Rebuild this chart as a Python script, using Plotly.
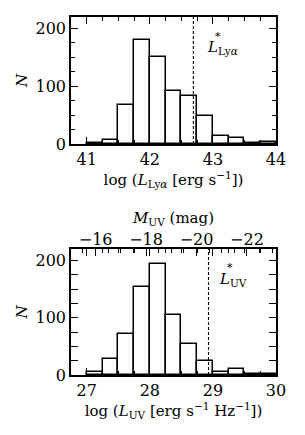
import plotly.graph_objects as go

# Data
lya_edges_left = [41.0, 41.25, 41.5, 41.75, 42.0, 42.25, 42.5, 42.75, 43.0, 43.25, 43.5, 43.75]
lya_counts = [2, 7, 67, 181, 151, 92, 83, 49, 13, 11, 2, 4]
uv_edges_left = [27.0, 27.25, 27.5, 27.75, 28.0, 28.25, 28.5, 28.75, 29.0, 29.25, 29.5, 29.75]
uv_counts = [6, 28, 72, 153, 194, 104, 54, 24, 5, 10, 2, 2]
bin_width = 0.25
lstar_lya = 42.69
lstar_uv = 28.93
muv_ticks = [-16, -18, -20, -22]
# M_UV = -2.5 log L_UV + C
muv_const = 51.85

lya_range = [40.75, 44.0]
uv_range = [26.75, 30.0]
y_range = [0, 220]

FONT = "DejaVu Serif"
fig = go.Figure()

fig.add_trace(go.Bar(x=[e + bin_width / 2 for e in lya_edges_left], y=lya_counts, width=bin_width,
                     marker=dict(color="white", line=dict(color="black", width=1.5)),
                     xaxis="x", yaxis="y", showlegend=False))
fig.add_trace(go.Bar(x=[e + bin_width / 2 for e in uv_edges_left], y=uv_counts, width=bin_width,
                     marker=dict(color="white", line=dict(color="black", width=1.5)),
                     xaxis="x2", yaxis="y2", showlegend=False))
m_range = [-2.5 * uv_range[0] + muv_const, -2.5 * uv_range[1] + muv_const]
fig.add_trace(go.Scatter(x=m_range, y=[0, 0], mode="markers", marker=dict(opacity=0),
                         xaxis="x3", yaxis="y2", showlegend=False, hoverinfo="skip"))

tickfont = dict(family=FONT, size=16, color="black")
titlefont = dict(family=FONT, size=15, color="black")
common_x = dict(showline=True, linecolor="black", linewidth=1.6, mirror="allticks",
                ticks="inside", ticklen=7, tickwidth=1.4, tickcolor="black",
                tickfont=tickfont, showgrid=False, zeroline=False, dtick=1, automargin=False,
                minor=dict(dtick=0.25, ticks="inside", ticklen=4, tickwidth=1.1, tickcolor="black"))
common_y = dict(showline=True, linecolor="black", linewidth=1.6, mirror="allticks",
                ticks="inside", ticklen=7, tickwidth=1.4, tickcolor="black",
                tickfont=tickfont, showgrid=False, zeroline=False, dtick=100, range=y_range,
                automargin=False,
                minor=dict(dtick=25, ticks="inside", ticklen=4, tickwidth=1.1, tickcolor="black"),
                title=dict(text="<i>N</i>", font=titlefont, standoff=4))

# page body has an 8px default margin, so the figure is 8px smaller and offset
fig.update_layout(
    width=297, height=427,
    margin=dict(l=63, r=29, t=9, b=60, autoexpand=False),
    plot_bgcolor="white", paper_bgcolor="white",
    bargap=0,
    xaxis=dict(common_x, range=lya_range, anchor="y", domain=[0, 1],
               title=dict(text="log (<i>L</i><sub>Ly<i>α</i></sub> [erg s<sup>−1</sup>])",
                          font=titlefont, standoff=2)),
    yaxis=dict(common_y, anchor="x", domain=[0.6453, 1.0]),
    xaxis2=dict(common_x, range=uv_range, anchor="y2", domain=[0, 1],
                title=dict(text="log (<i>L</i><sub>UV</sub> [erg s<sup>−1</sup> Hz<sup>−1</sup>])",
                           font=titlefont, standoff=2)),
    yaxis2=dict(common_y, anchor="x2", domain=[0.0, 0.352]),
    xaxis3=dict(overlaying="x2", side="top", anchor="y2", range=m_range,
                tickvals=muv_ticks, ticktext=["−16", "−18", "−20", "−22"],
                ticks="inside", ticklen=7, tickwidth=1.4, tickcolor="black", tickfont=tickfont,
                showgrid=False, zeroline=False, showline=False, automargin=False,
                minor=dict(dtick=0.5, ticks="inside", ticklen=4, tickwidth=1.1, tickcolor="black"),
                title=dict(text="<i>M</i><sub>UV</sub> (mag)", font=titlefont, standoff=2)),
)

fig.add_shape(type="line", xref="x", yref="y domain", x0=lstar_lya, x1=lstar_lya, y0=0, y1=1,
              line=dict(color="black", width=1.1, dash="3px,2px"))
fig.add_shape(type="line", xref="x2", yref="y2 domain", x0=lstar_uv, x1=lstar_uv, y0=0, y1=1,
              line=dict(color="black", width=1.1, dash="3px,2px"))

# L* labels: letter with subscript, star placed above the subscript
fig.add_annotation(x=lstar_lya + 0.18, y=0.76, xref="x", yref="y domain", xanchor="left", yanchor="middle",
                   text="<i>L</i><sub>Ly<i>α</i></sub>", showarrow=False, font=titlefont)
fig.add_annotation(x=lstar_lya + 0.39, y=0.85, xref="x", yref="y domain", xanchor="center", yanchor="middle",
                   text="*", showarrow=False, font=dict(family=FONT, size=11, color="black"))
fig.add_annotation(x=lstar_uv + 0.13, y=0.76, xref="x2", yref="y2 domain", xanchor="left", yanchor="middle",
                   text="<i>L</i><sub>UV</sub>", showarrow=False, font=titlefont)
fig.add_annotation(x=lstar_uv + 0.34, y=0.85, xref="x2", yref="y2 domain", xanchor="center", yanchor="middle",
                   text="*", showarrow=False, font=dict(family=FONT, size=11, color="black"))

fig.write_html("out.html")
